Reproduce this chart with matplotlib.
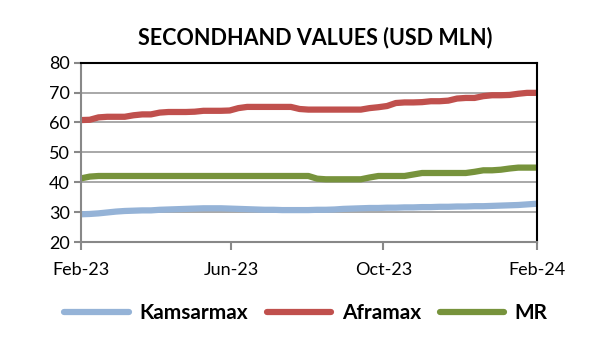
import pandas as pd
import numpy as np
import matplotlib
matplotlib.use("Agg")
import matplotlib.pyplot as plt

# weekly secondhand values, Feb-23 .. Feb-24 (USD mln)
dates = pd.date_range("2023-02-01", periods=53, freq="7D")

kamsarmax = [29.3, 29.4, 29.6, 29.9, 30.2, 30.4, 30.5, 30.6, 30.6, 30.8,
             30.9, 31.0, 31.1, 31.2, 31.3, 31.3, 31.3, 31.2, 31.1, 31.0,
             30.9, 30.8, 30.8, 30.7, 30.7, 30.7, 30.7, 30.8, 30.8, 30.9,
             31.1, 31.2, 31.3, 31.4, 31.4, 31.5, 31.5, 31.6, 31.6, 31.7,
             31.7, 31.8, 31.8, 31.9, 31.9, 32.0, 32.0, 32.1, 32.2, 32.3,
             32.4, 32.6, 32.8]

aframax = [60.8, 60.9, 61.7, 61.9, 61.9, 61.9, 62.4, 62.7, 62.7, 63.3,
           63.5, 63.5, 63.5, 63.6, 63.9, 63.9, 63.9, 64.0, 64.8, 65.2,
           65.2, 65.2, 65.2, 65.2, 65.2, 64.5, 64.3, 64.3, 64.3, 64.3,
           64.3, 64.3, 64.3, 64.8, 65.1, 65.5, 66.5, 66.7, 66.7, 66.8,
           67.1, 67.1, 67.3, 68.0, 68.2, 68.2, 68.8, 69.1, 69.1, 69.2,
           69.6, 69.9, 69.9]

mr = [41.3, 41.9, 42.1, 42.1, 42.1, 42.1, 42.1, 42.1, 42.1, 42.1,
      42.1, 42.1, 42.1, 42.1, 42.1, 42.1, 42.1, 42.1, 42.1, 42.1,
      42.1, 42.1, 42.1, 42.1, 42.1, 42.1, 42.1, 41.2, 41.0, 41.0,
      41.0, 41.0, 41.0, 41.6, 42.1, 42.1, 42.1, 42.1, 42.6, 43.1,
      43.1, 43.1, 43.1, 43.1, 43.1, 43.5, 44.0, 44.0, 44.2, 44.6,
      44.9, 44.9, 44.9]

series = ["Kamsarmax", "Aframax", "MR"]
colors = ["#95B3D7", "#C0504D", "#77933C"]
tick_dates = pd.to_datetime(["2023-02-01", "2023-06-01", "2023-10-01", "2024-02-01"])
tick_labels = ["Feb-23", "Jun-23", "Oct-23", "Feb-24"]

plt.rcParams['font.family'] = ['Lato', 'DejaVu Sans']

fig = plt.figure(figsize=(6, 3.56), dpi=100)
ax = fig.add_axes([0.135, 0.32, 0.76, 0.504])

for name, vals, c in zip(series, [kamsarmax, aframax, mr], colors):
    ax.plot(dates, vals, color=c, lw=4.5, label=name, solid_capstyle="round")

ax.set_ylim(20, 80)
ax.set_yticks(np.arange(20, 81, 10))
ax.set_xlim(tick_dates[0], tick_dates[-1])
ax.set_xticks(tick_dates)
ax.set_xticklabels(tick_labels)
ax.grid(axis="y", color="#999999", lw=1.2)
ax.set_axisbelow(True)

for s in ["left", "bottom"]:
    ax.spines[s].set_color("#888888")
    ax.spines[s].set_linewidth(1.5)
for s in ["top", "right"]:
    ax.spines[s].set_color("black")
    ax.spines[s].set_linewidth(1.5)

ax.tick_params(axis="both", direction="out", colors="#888888", labelcolor="black",
               labelsize=13, width=1.5)
ax.tick_params(axis="y", length=5, pad=3)
ax.tick_params(axis="x", length=6, pad=8)

# title
fig.text(0.525, 0.895, "SECONDHAND VALUES (USD MLN)", ha="center", va="center",
         fontsize=15.5, fontweight="bold")

leg = fig.legend(loc="center", bbox_to_anchor=(0.51, 0.12), ncol=3, frameon=False,
                 handlelength=3.1, columnspacing=0.9, handletextpad=0.5,
                 prop={"weight": "bold", "size": 15})

fig.savefig("out.png", dpi=100)
